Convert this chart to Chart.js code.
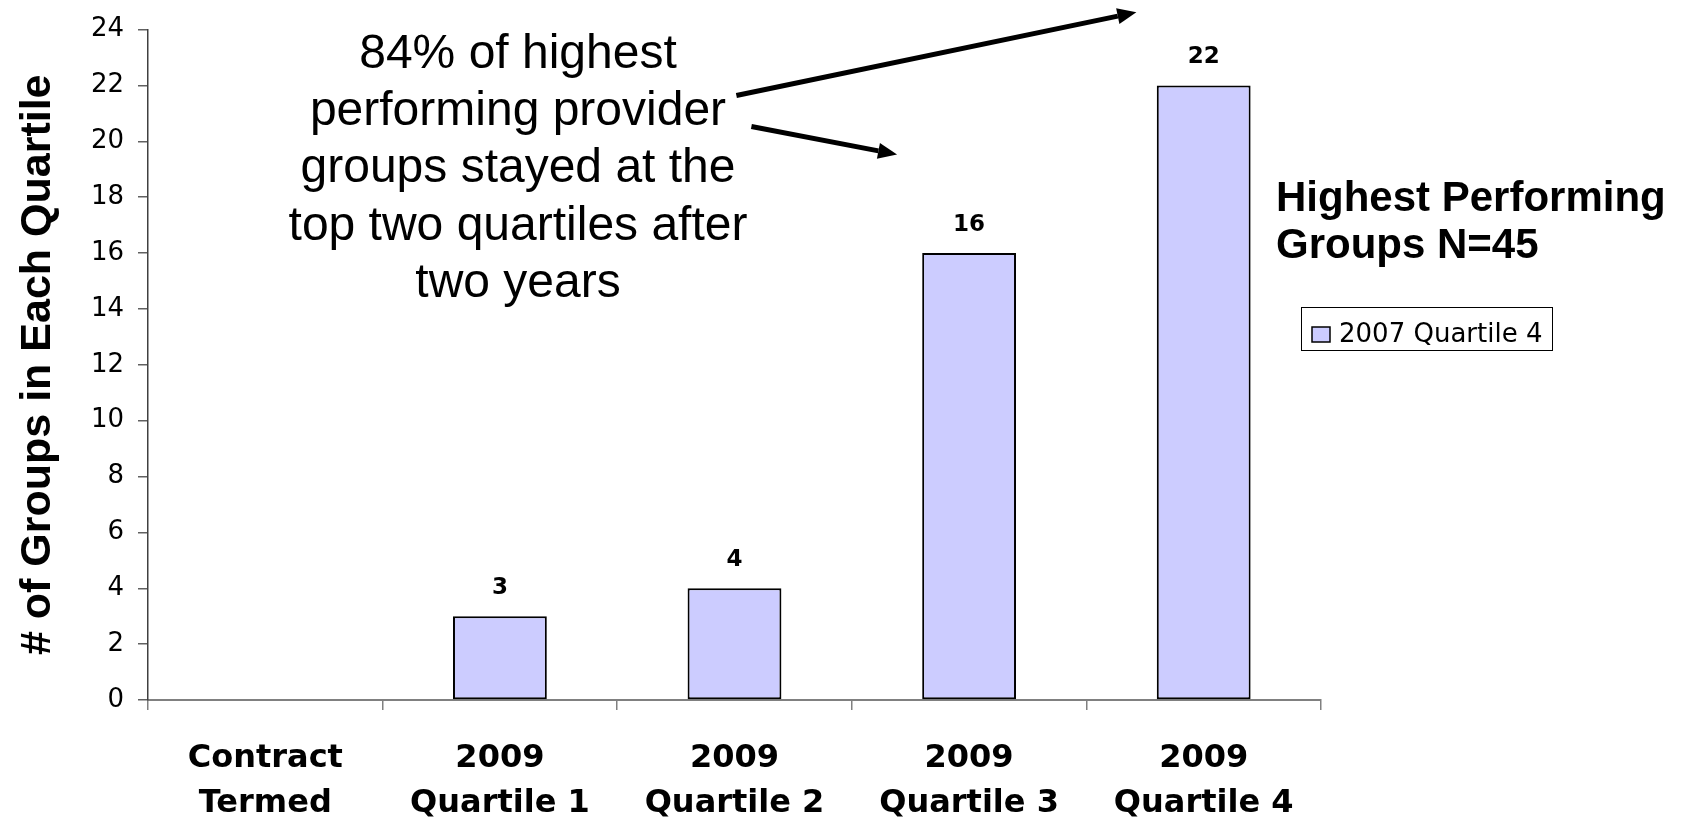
<!DOCTYPE html>
<html>
<head>
<meta charset="utf-8">
<title>Highest Performing Groups N=45</title>
<script src="https://cdn.jsdelivr.net/npm/chart.js@4.4.1/dist/chart.umd.min.js"></script>
<style>
  html, body { margin: 0; padding: 0; background: #ffffff; overflow: hidden; }
  canvas { display: block; }
</style>
</head>
<body>
<canvas id="chart" width="1686" height="817"></canvas>
<script>
// Categories on the x axis (two lines each)
const categories = [
  ['Contract', 'Termed'],
  ['2009', 'Quartile 1'],
  ['2009', 'Quartile 2'],
  ['2009', 'Quartile 3'],
  ['2009', 'Quartile 4']
];

// Series: 2007 top-quartile groups, by where they landed in 2009
const seriesName = '2007 Quartile 4';
const groupCounts = [0, 3, 4, 16, 22];

// Y axis tick values
const yTicks = [0, 2, 4, 6, 8, 10, 12, 14, 16, 18, 20, 22, 24];

// Side heading and callout text
const headingLines = ['Highest Performing', 'Groups N=45'];
const calloutLines = [
  '84% of highest',
  'performing provider',
  'groups stayed at the',
  'top two quartiles after',
  'two years'
];

// Callout arrows, anchored in (category index, value) space
const calloutArrows = [
  { from: [2.008, 21.64], to: [3.713, 24.62] },
  { from: [2.072, 20.53], to: [2.693, 19.53] }
];

const BAR_FILL = '#CCCCFF';
const BAR_EDGE = '#000000';

function drawArrow(ctx, x1, y1, x2, y2) {
  const ang = Math.atan2(y2 - y1, x2 - x1);
  const headLen = 19, headHalf = 8;
  const bx = x2 - headLen * Math.cos(ang);
  const by = y2 - headLen * Math.sin(ang);
  ctx.beginPath();
  ctx.moveTo(x1, y1);
  ctx.lineTo(bx, by);
  ctx.lineWidth = 5;
  ctx.strokeStyle = '#000';
  ctx.stroke();
  ctx.beginPath();
  ctx.moveTo(x2, y2);
  ctx.lineTo(bx + headHalf * Math.sin(ang), by - headHalf * Math.cos(ang));
  ctx.lineTo(bx - headHalf * Math.sin(ang), by + headHalf * Math.cos(ang));
  ctx.closePath();
  ctx.fillStyle = '#000';
  ctx.fill();
}

const decorations = {
  id: 'decorations',
  afterDatasetsDraw(chart) {
    // value labels above the bars
    const ctx = chart.ctx;
    const meta = chart.getDatasetMeta(0);
    ctx.save();
    ctx.font = 'bold 23px "DejaVu Sans"';
    ctx.fillStyle = '#000';
    ctx.textAlign = 'center';
    ctx.textBaseline = 'middle';
    meta.data.forEach((bar, i) => {
      const v = chart.data.datasets[0].data[i];
      if (v > 0) ctx.fillText(String(v), bar.x, bar.y - 28);
    });
    ctx.restore();
  },
  afterDraw(chart) {
    const ctx = chart.ctx;
    const xs = chart.scales.x, ys = chart.scales.y;
    ctx.save();

    // callout text
    ctx.font = '48px "Liberation Sans", Arial, sans-serif';
    ctx.fillStyle = '#000';
    ctx.textAlign = 'center';
    ctx.textBaseline = 'alphabetic';
    calloutLines.forEach((line, i) => ctx.fillText(line, 518, 68 + i * 57.2));

    // callout arrows
    calloutArrows.forEach(a => {
      drawArrow(ctx,
        xs.getPixelForValue(a.from[0]), ys.getPixelForValue(a.from[1]),
        xs.getPixelForValue(a.to[0]), ys.getPixelForValue(a.to[1]));
    });

    // side heading
    ctx.font = 'bold 42px "Liberation Sans", Arial, sans-serif';
    ctx.textAlign = 'left';
    headingLines.forEach((line, i) => ctx.fillText(line, 1276, 211 + i * 46.5));

    // legend box
    const ds = chart.data.datasets[0];
    ctx.lineWidth = 1;
    ctx.strokeStyle = '#000';
    ctx.strokeRect(1301.5, 307.5, 251, 43);
    ctx.fillStyle = ds.backgroundColor;
    ctx.fillRect(1312, 327, 18, 15);
    ctx.lineWidth = 1.5;
    ctx.strokeRect(1312, 327, 18, 15);
    ctx.fillStyle = '#000';
    ctx.font = '26px "DejaVu Sans"';
    ctx.fillText(ds.label, 1339, 342);

    ctx.restore();
  }
};

new Chart(document.getElementById('chart'), {
  type: 'bar',
  data: {
    labels: categories,
    datasets: [{
      label: seriesName,
      data: groupCounts,
      backgroundColor: BAR_FILL,
      borderColor: BAR_EDGE,
      borderWidth: 2,
      borderSkipped: false,
      barPercentage: 0.4,
      categoryPercentage: 1.0
    }]
  },
  options: {
    responsive: false,
    animation: false,
    devicePixelRatio: 1,
    layout: { padding: { left: 0, top: 29, right: 365, bottom: 0 } },
    plugins: {
      legend: { display: false },
      tooltip: { enabled: false },
      title: { display: false }
    },
    scales: {
      x: {
        offset: true,
        grid: {
          offset: true,
          drawOnChartArea: false,
          drawTicks: true,
          tickLength: 10,
          color: '#808080',
          lineWidth: 1.5
        },
        border: { display: true, color: '#808080', width: 2 },
        ticks: {
          color: '#000',
          padding: 26,
          maxRotation: 0,
          autoSkip: false,
          font: { family: '"DejaVu Sans"', size: 32, weight: 'bold', lineHeight: 1.4 }
        },
        afterFit(scale) { scale.height = 117; }
      },
      y: {
        min: 0,
        max: 24,
        afterBuildTicks(scale) { scale.ticks = yTicks.map(v => ({ value: v })); },
        grid: {
          drawOnChartArea: false,
          drawTicks: true,
          tickLength: 10,
          color: '#606060',
          lineWidth: 1.5
        },
        border: { display: true, color: '#404040', width: 1.5 },
        ticks: {
          color: '#000',
          padding: 14,
          font: { family: '"DejaVu Sans"', size: 26, weight: 'normal' }
        },
        title: {
          display: true,
          text: '# of Groups in Each Quartile',
          color: '#000',
          padding: { top: 12, bottom: 0 },
          font: { family: '"Liberation Sans", Arial, sans-serif', size: 43, weight: 'bold' }
        },
        afterFit(scale) { scale.width = 148; }
      }
    }
  },
  plugins: [decorations]
});
</script>
</body>
</html>
